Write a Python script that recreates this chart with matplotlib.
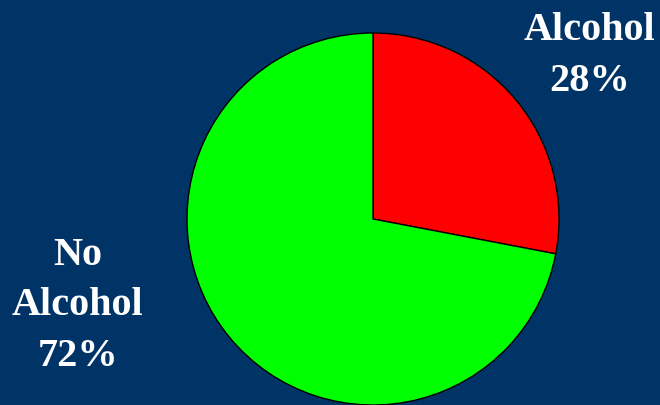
import matplotlib
matplotlib.use("Agg")
import matplotlib.pyplot as plt

labels = ["Alcohol", "No Alcohol"]
shares = [28, 72]
colors = ["#ff0000", "#00ff00"]

bg = "#003366"
W, H = 660, 405

fig = plt.figure(figsize=(W / 100, H / 100), dpi=100, facecolor=bg)
ax = fig.add_axes([0, 0, 1, 1])
ax.set_facecolor(bg)
ax.axis("off")

ax.pie(shares, colors=colors, startangle=90, counterclock=False,
       center=(373, H - 219), radius=186,
       wedgeprops=dict(edgecolor="black", linewidth=1.0))
ax.set_xlim(0, W)
ax.set_ylim(0, H)
ax.set_aspect("equal")

font = dict(family="Liberation Serif", weight="bold", color="white",
            fontsize=29, ha="center", va="baseline")

# label for the smaller slice, upper right
for line, base in zip([labels[0], f"{shares[0]}%"], [40, 91]):
    ax.text(590, H - base, line, **font)

# label for the larger slice, left side
for line, base in zip(["No", "Alcohol", f"{shares[1]}%"], [265, 315, 366]):
    ax.text(78, H - base, line, **font)

fig.savefig("out.png", dpi=100, facecolor=bg)
